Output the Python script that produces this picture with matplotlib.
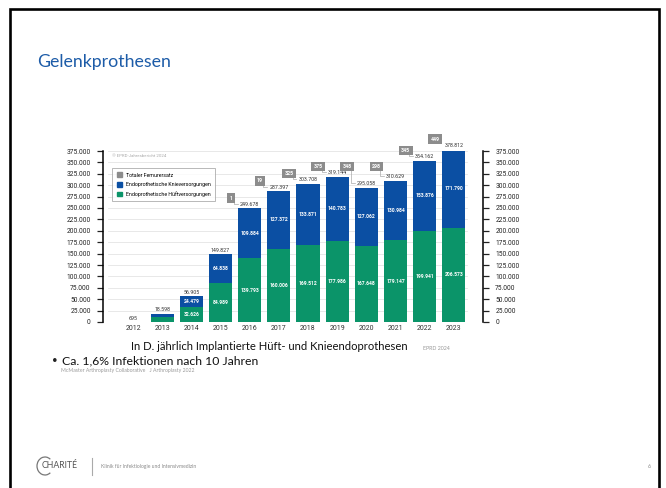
import numpy as np
import matplotlib.pyplot as plt
from matplotlib.patches import Rectangle, Arc
from matplotlib.lines import Line2D

# Daten (EPRD-Jahresbericht 2024)
years = ["2012", "2013", "2014", "2015", "2016", "2017", "2018", "2019", "2020", "2021", "2022", "2023"]
hip = [695, 10900, 32626, 84989, 139793, 160006, 169512, 177986, 167648, 179147, 199941, 206573]
knee = [0, 7698, 24479, 64838, 109884, 127372, 133871, 140783, 127062, 130984, 153876, 171790]
totals = [695, 18598, 56905, 149827, 249678, 287397, 303708, 319144, 295058, 310629, 354162, 378812]
femur = [None, None, None, None, 1, 19, 325, 375, 348, 298, 345, 449]

W, H = 666, 488
c_blue = "#0b4fa3"
c_green = "#0b9469"
c_gray = "#8c8c8c"

plt.rcParams["font.family"] = ["Roboto", "DejaVu Sans"]

fig = plt.figure(figsize=(W / 100, H / 100), dpi=100)


def fx(x):
    return x / W


def fy(y):
    return 1 - y / H


def de(v):
    return f"{v:,}".replace(",", ".")


# Folienrahmen
fig.patches.append(Rectangle((fx(9.5), fy(495)), fx(649), (495 - 8.5) / H,
                             transform=fig.transFigure, fill=False, lw=1.9, ec="black"))

fig.text(fx(37), fy(62), "Gelenkprothesen", fontsize=12.8, color="#1d5ca8",
         family="Lato", va="center")

# Diagramm
ax = fig.add_axes([fx(103), fy(322), fx(483) - fx(103), (322 - 151) / H])
x = np.arange(len(years))
bw = 0.79
ax.set_xlim(-1.03, 12.0)
ax.set_ylim(0, 375000)

yt = np.arange(0, 375001, 25000)
for v in yt:
    ax.plot([-0.86, 11.45], [v, v], color="#e4e4e4", lw=0.6, zorder=0)

ax.bar(x, hip, bw, color=c_green, zorder=2)
ax.bar(x, knee, bw, bottom=hip, color=c_blue, zorder=2)

for i in x:
    if hip[i] > 20000:
        ax.text(i, hip[i] / 2, de(hip[i]), ha="center", va="center",
                color="white", fontsize=3.6, fontweight="bold", zorder=3)
    if knee[i] > 20000:
        ax.text(i, hip[i] + knee[i] / 2, de(knee[i]), ha="center", va="center",
                color="white", fontsize=3.6, fontweight="bold", zorder=3)
    ax.text(i, totals[i] + 2500, de(totals[i]), ha="center", va="bottom",
            color="#333333", fontsize=3.8, zorder=3)

# Totaler Femurersatz als graue Kästchen
run_max = 0
for i in x:
    run_max = max(run_max, totals[i])
    if femur[i] is None:
        continue
    bx = i - 0.65
    by = run_max + 22000
    ax.plot([bx + 0.12, bx + 0.12, i - bw / 2], [by, totals[i] + 9000, totals[i] + 9000],
            color="#aaaaaa", lw=0.5, zorder=1)
    ax.text(bx, by, str(femur[i]), ha="center", va="center", color="white",
            fontsize=3.8, fontweight="bold", zorder=4,
            bbox=dict(boxstyle="square,pad=0.45", fc=c_gray, ec="none"))

ax.set_yticks(yt)
ax.set_yticklabels([de(v) for v in yt])
ax.set_xticks(x)
ax.set_xticklabels(years)
ax.tick_params(axis="y", length=4.3, width=0.9, labelsize=4.8, pad=4.5,
               colors="#222222", left=True, right=True, labelleft=True, labelright=True)
ax.tick_params(axis="x", length=0, labelsize=5, pad=2.5, colors="#333333")
for s in ["top", "bottom"]:
    ax.spines[s].set_visible(False)
for s in ["left", "right"]:
    ax.spines[s].set_linewidth(1.1)
ax.patch.set_visible(False)

handles = [Rectangle((0, 0), 1, 1, color=c_gray),
           Rectangle((0, 0), 1, 1, color=c_blue),
           Rectangle((0, 0), 1, 1, color=c_green)]
labels = ["Totaler Femurersatz", "Endoprothetische Knieversorgungen",
          "Endoprothetische Hüftversorgungen"]
leg = ax.legend(handles, labels, loc="upper left", bbox_to_anchor=(0.018, 0.915),
                fontsize=3.8, frameon=True, fancybox=False, edgecolor="#999999",
                handlelength=1.0, handleheight=1.0, handletextpad=0.8,
                labelspacing=0.8, borderpad=0.8)
leg.get_frame().set_linewidth(0.6)
ax.text(0.024, 0.97, "© EPRD-Jahresbericht 2024", transform=ax.transAxes,
        fontsize=3.2, color="#aaaaaa", va="center")

# Texte unter dem Diagramm
fig.text(fx(131), fy(347), "In D. jährlich Implantierte Hüft- und Knieendoprothesen",
         fontsize=8.1, family="Lato", color="#111111", va="center")
fig.text(fx(423), fy(348), "EPRD 2024", fontsize=3.8, family="Lato", color="#999999",
         va="center")
fig.text(fx(52), fy(361), "•", fontsize=7, family="Lato", color="#222222", va="center")
fig.text(fx(62), fy(361), "Ca. 1,6% Infektionen nach 10 Jahren", fontsize=8.8,
         family="Lato", color="#111111", va="center")
fig.text(fx(61), fy(370.5), "McMaster Arthroplasty Collaborative   J Arthroplasty 2022",
         fontsize=3.7, family="Lato", color="#999999", va="center")

# Fußzeile
fig.patches.append(Arc((fx(45), fy(466)), fx(16), 18 / H, theta1=60, theta2=300,
                       transform=fig.transFigure, color="#777777", lw=0.9))
fig.text(fx(42), fy(466), "CHARITÉ", fontsize=6.3, family="Lato", color="#555555",
         va="center")
fig.lines.append(Line2D([fx(92), fx(92)], [fy(458), fy(475)], transform=fig.transFigure,
                        color="#aaaaaa", lw=0.8))
fig.text(fx(101), fy(466.5), "Klinik für Infektiologie und Intensivmedizin", fontsize=3.6,
         family="Lato", color="#888888", va="center")
fig.text(fx(648), fy(466.5), "6", fontsize=4, family="Lato", color="#888888", va="center")

fig.savefig("out.png", dpi=100)
